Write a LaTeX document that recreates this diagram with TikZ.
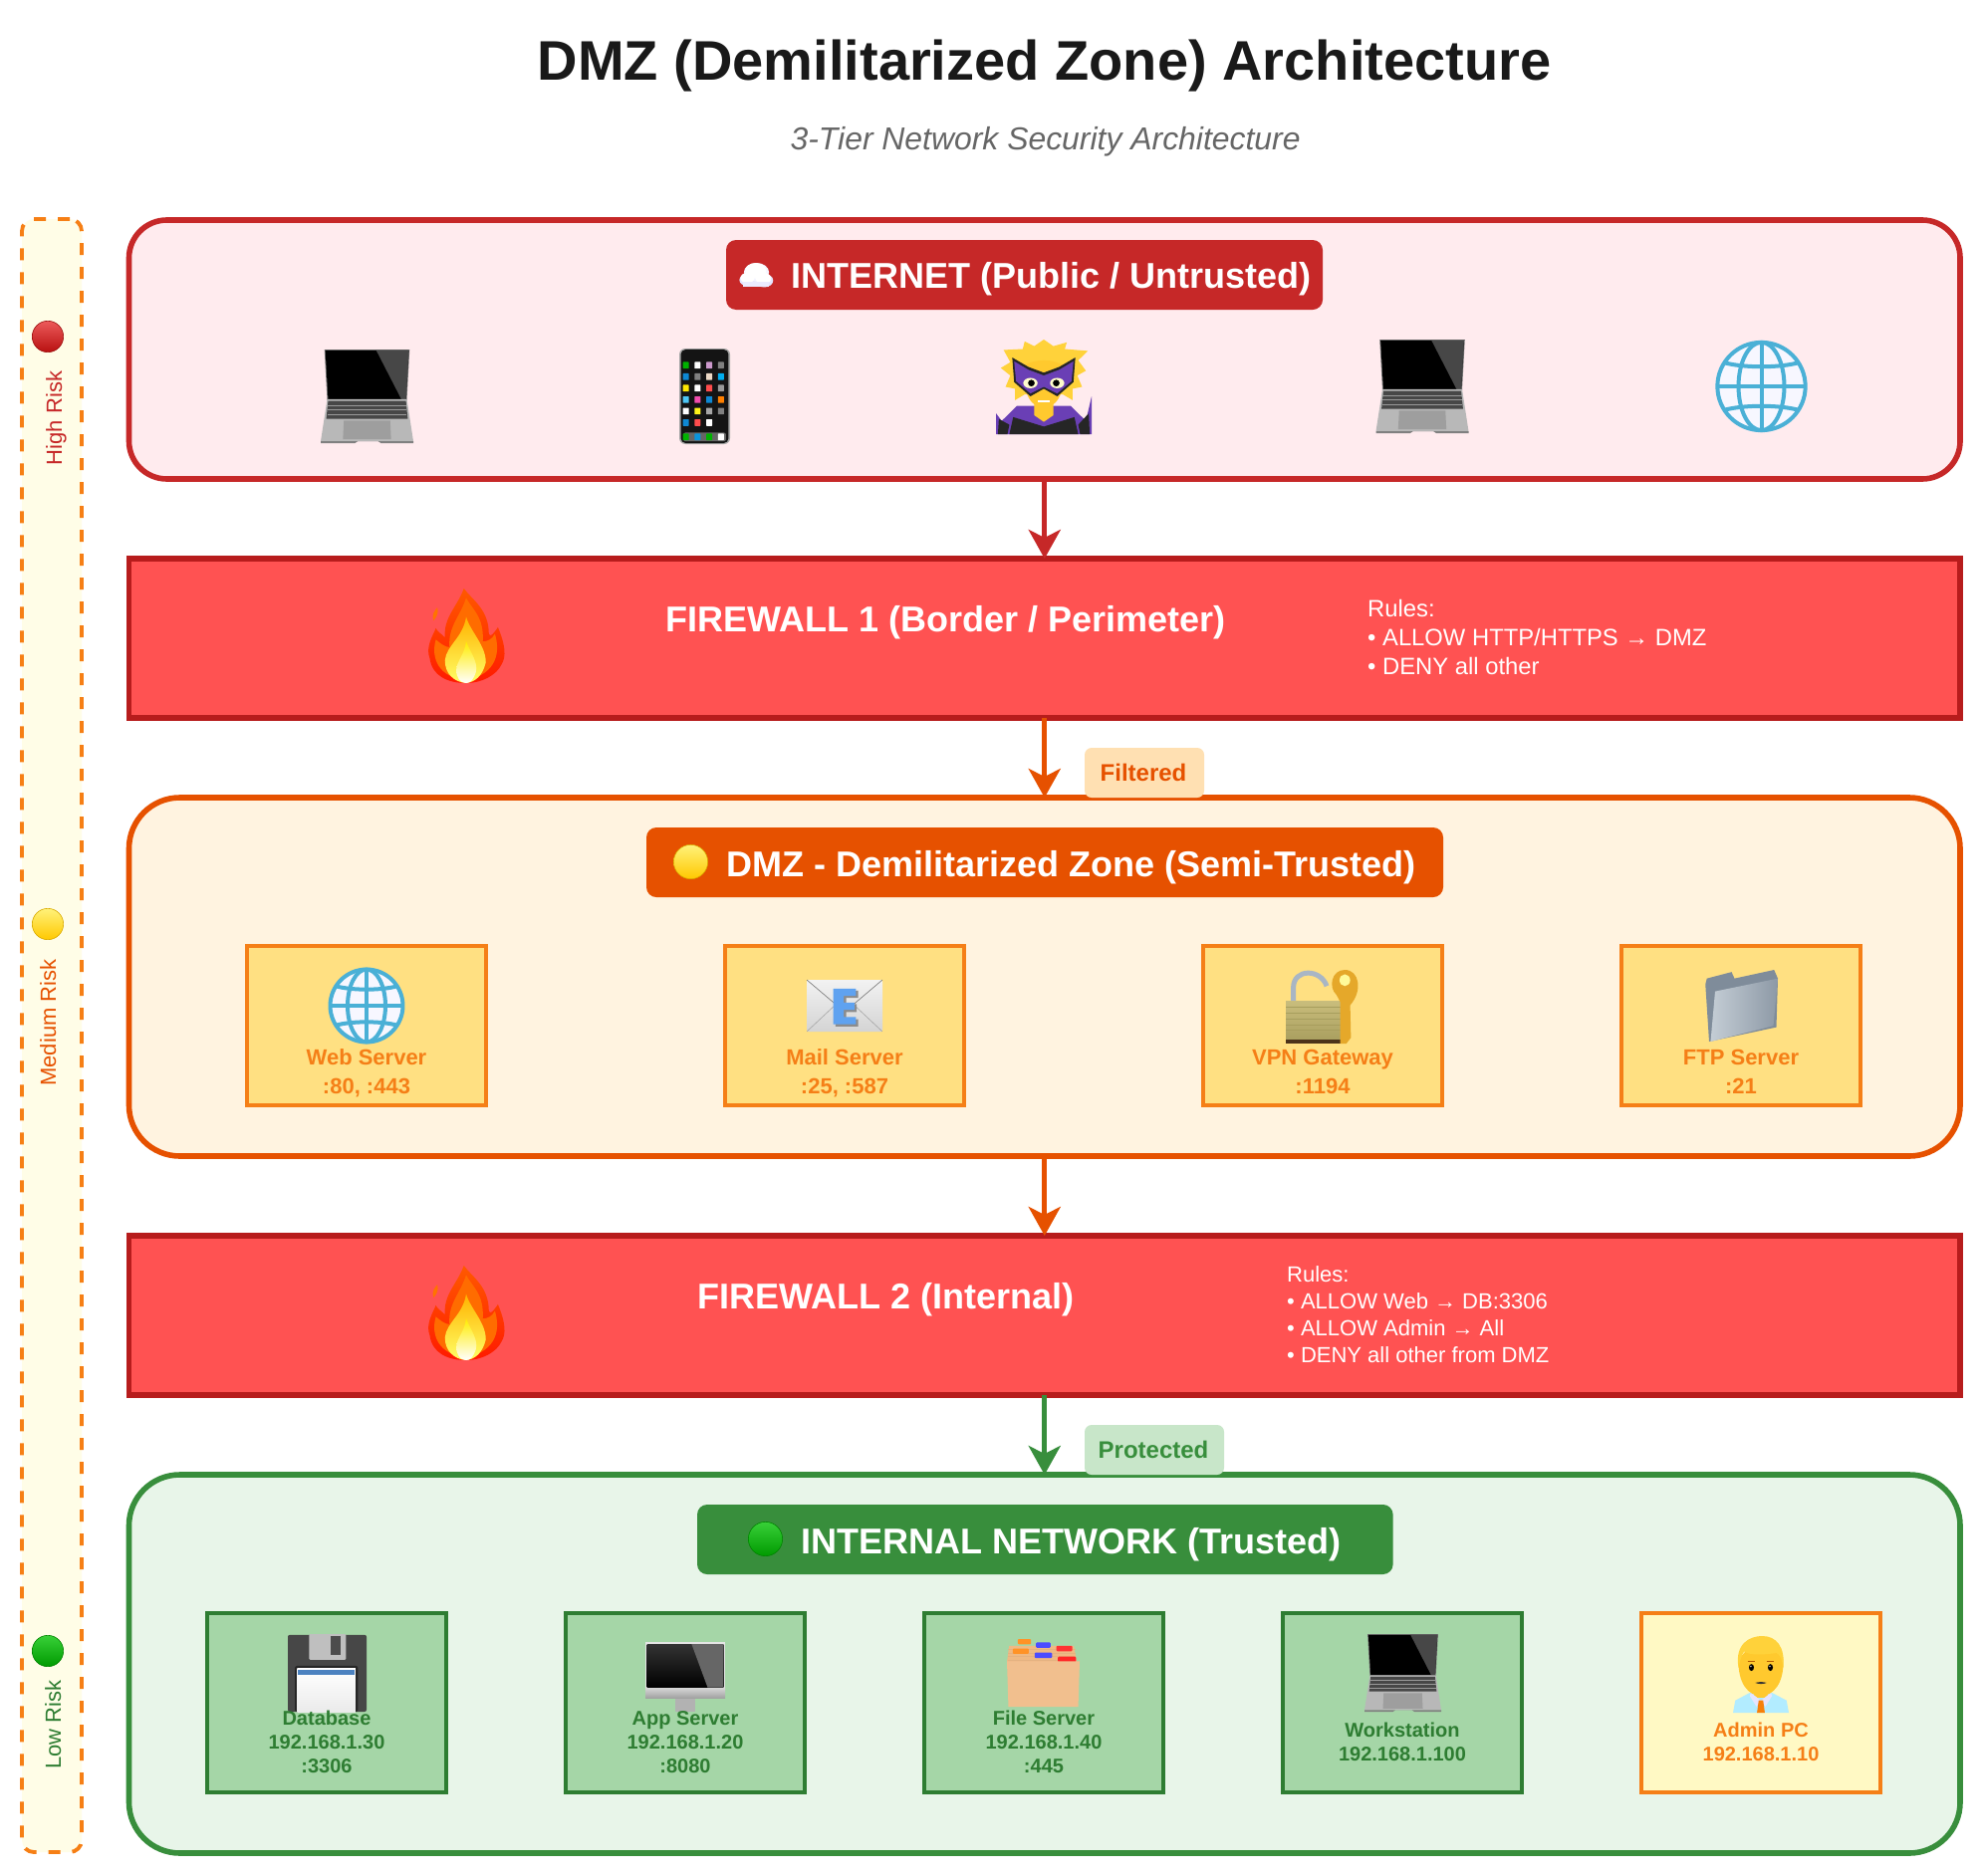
\documentclass[tikz,border=0pt]{standalone}
\usepackage{fontspec}
\setmainfont{Liberation Sans}
\usetikzlibrary{arrows.meta}
\definecolor{redz}{HTML}{C62828}
\definecolor{redbg}{HTML}{FFEBEE}
\definecolor{orz}{HTML}{E65100}
\definecolor{orbg}{HTML}{FFF3E0}
\definecolor{grz}{HTML}{388E3C}
\definecolor{grbg}{HTML}{E8F5E9}
\definecolor{fwfill}{HTML}{FF5252}
\definecolor{fwline}{HTML}{B71C1C}
\definecolor{amber}{HTML}{F57F17}
\definecolor{dmzfill}{HTML}{FFE082}
\definecolor{intfill}{HTML}{A5D6A7}
\definecolor{intline}{HTML}{2E7D32}
\definecolor{admfill}{HTML}{FFF9C4}
\definecolor{legfill}{HTML}{FFFDE7}
\definecolor{filtfill}{HTML}{FFE0B2}
\definecolor{protfill}{HTML}{C8E6C9}
\definecolor{globeblue}{HTML}{4AB0D6}
\definecolor{heroskin}{HTML}{FFC92E}
\definecolor{herohair}{HTML}{FFD23A}
\definecolor{heropur}{HTML}{6A3FB5}
\definecolor{goldkey}{HTML}{E5A82A}
\definecolor{ballyt}{HTML}{FFF27A}
\definecolor{ballyb}{HTML}{FFC800}
\definecolor{ballrt}{HTML}{EC5A5A}
\definecolor{ballrb}{HTML}{B81010}
\definecolor{ballgt}{HTML}{38D038}
\definecolor{ballgb}{HTML}{009A00}
\definecolor{locktop}{HTML}{C9BD7C}
\definecolor{lockbot}{HTML}{A89E5E}
\definecolor{shackle}{HTML}{A9B6C4}
\definecolor{foldback}{HTML}{7F8C9A}
\definecolor{foldl}{HTML}{C4CDD5}
\definecolor{foldr}{HTML}{8D99A6}
\definecolor{mailblue}{HTML}{5FA2F0}
\newcommand{\place}[5]{\begin{scope}[shift={(#1,#2)},xscale=#3/100,yscale=#4/100]#5\end{scope}}
\newcommand{\emLaptop}{%
  \fill[black!55] (4,0)--(96,0)--(93,54)--(7,54)--cycle;
  \fill[black] (5,1)--(95,1)--(92,53)--(8,53)--cycle;
  \fill[black!72] (60,1)--(95,1)--(92,53)--(87,53)--cycle;
  \fill[black!28] (7,53)--(93,53)--(100,98)--(0,98)--cycle;
  \fill[black!72] (8,55)--(92,55)--(94,74)--(6,74)--cycle;
  \foreach \yy in {59.5,64.5,69.5}{\draw[black!40,line width=.5pt] (7,\yy)--(93,\yy);}
  \fill[black!38] (25,76)--(75,76)--(76,96)--(24,96)--cycle;
  \fill[black!50] (0,98)--(100,98)--(100,100)--(65,100)--(62,98)--(40,98)--(37,100)--(0,100)--cycle;}
\newcommand{\emPhone}{%
  \fill[black!35,rounded corners=6pt] (0,0) rectangle (100,100);
  \fill[black!92,rounded corners=5pt] (3,1) rectangle (97,99);
  \fill[black!60,rounded corners=2pt] (8,88) rectangle (92,97);
  \foreach \c/\xx/\yy in {green!70!black/13/14,white/36/14,violet!40/59/14,gray/82/14,
     cyan!70!blue/13/26,gray/36/26,brown!30/59/26,cyan/82/26,
     yellow!90!orange/13/38,white/36/38,red!70/59/38,gray!80/82/38,
     cyan!70/13/50,magenta!70/36/50,cyan!70!blue/59/50,orange/82/50,
     white/13/62,yellow!90/36/62,gray!70/59/62,gray/82/62,
     cyan!70!blue/13/74,red!70/36/74,white/59/74,
     green!70!black/13/89,cyan!80!blue/36/89,green!70!black/59/89,white/82/89}{
    \fill[\c,rounded corners=.6pt] (\xx-6,\yy) rectangle (\xx+6,\yy+7);}}
\newcommand{\emHero}{%
  \fill[heropur] (0,100)--(0,78)--(6,86)--(22,70)--(78,70)--(94,86)--(100,60)--(100,100)--cycle;
  \fill[black!85] (14,100)--(18,82)--(50,92)--(82,82)--(86,100)--cycle;
  \fill[black!85] (2,100)--(3,84)--(14,90)--(12,100)--cycle;
  \fill[black!85] (98,100)--(97,78)--(86,90)--(88,100)--cycle;
  \fill[heroskin] (40,60)--(60,60)--(60,80)--(50,87)--(40,80)--cycle;
  \fill[herohair] (50,0)--(60,7)--(74,3)--(72,10)--(96,12)--(86,22)--(94,33)--(85,38)--(90,50)--(80,52)--(80,64)--(70,58)--(30,58)--(20,64)--(20,52)--(10,50)--(15,38)--(5,30)--(15,24)--(8,11)--(28,10)--(30,2)--(40,7)--cycle;
  \fill[heroskin] (28,28) .. controls (28,60) and (38,72) .. (50,72) .. controls (62,72) and (72,60) .. (72,28) .. controls (60,20) and (40,20) .. (28,28) -- cycle;
  \fill[black!85] (17,19)--(34,29)--(50,35)--(66,29)--(83,19)--(81,45)--(64,60)--(50,52)--(36,60)--(19,45)--cycle;
  \fill[heropur] (19,23)--(34,32)--(50,38)--(66,32)--(81,23)--(79,44)--(64,57)--(50,50)--(36,57)--(21,44)--cycle;
  \fill[white!80!yellow] (36,46) ellipse (7.5 and 5.5); \fill[white!80!yellow] (64,46) ellipse (7.5 and 5.5);
  \fill[black] (37,46) ellipse (3.5 and 3.5); \fill[black] (63,46) ellipse (3.5 and 3.5);
  \fill[white] (44,64) rectangle (56,66.5);}
\newcommand{\emGlobe}{%
  \fill[blue!3] (50,50) circle (49);
  \begin{scope}[line width=4pt,draw=globeblue]
  \draw (50,50) circle (48);
  \draw (50,2) -- (50,98);
  \draw (50,50) ellipse (25 and 48);
  \draw (2,50) -- (98,50);
  \draw (9,24) .. controls (30,30) and (70,30) .. (91,24);
  \draw (9,76) .. controls (30,70) and (70,70) .. (91,76);
  \end{scope}}
\newcommand{\emFire}{%
  \shade[top color=orange!70!red,bottom color=red!80!orange] (47,0) .. controls (58,12) and (80,22) .. (80,48) .. controls (82,52) and (86,48) .. (92,41) .. controls (102,60) and (103,72) .. (97,80) .. controls (90,92) and (70,100) .. (50,100) .. controls (25,100) and (5,92) .. (2,74) .. controls (-4,62) and (6,50) .. (10,42) .. controls (12,46) and (18,48) .. (22,52) .. controls (20,30) and (38,20) .. (47,0) -- cycle;
  \fill[orange!90!red] (7,34) .. controls (4,28) and (8,24) .. (12,20) .. controls (14,26) and (11,30) .. (7,34) -- cycle;
  \fill[orange!85!red] (50,10) .. controls (58,22) and (74,30) .. (72,56) .. controls (78,56) and (84,54) .. (88,48) .. controls (95,66) and (92,90) .. (50,97) .. controls (14,94) and (3,74) .. (10,54) .. controls (16,58) and (22,62) .. (28,62) .. controls (26,40) and (42,30) .. (50,10) -- cycle;
  \shade[top color=orange!60!yellow,bottom color=yellow!60!white] (50,30) .. controls (56,46) and (76,60) .. (76,78) .. controls (72,92) and (62,99) .. (50,100) .. controls (34,99) and (22,90) .. (22,76) .. controls (24,60) and (46,52) .. (50,30) -- cycle;
  \shade[top color=yellow!85!orange,bottom color=white] (50,56) .. controls (56,68) and (66,78) .. (63,88) .. controls (60,96) and (56,100) .. (50,100) .. controls (42,100) and (37,94) .. (37,86) .. controls (38,76) and (48,70) .. (50,56) -- cycle;}
\newcommand{\emCloud}{%
  \fill[blue!10] (24,70) circle (23) (72,72) circle (26);
  \fill[blue!4] (50,40) circle (36);
  \fill[white] (24,62) circle (20) (70,64) circle (22) (48,34) circle (30);
  \fill[blue!8] (12,78) rectangle (86,97);}
\newcommand{\emBall}[2]{\shade[top color=#1,bottom color=#2,draw=#2!85!black,line width=.6pt] (50,50) circle (49);}
\newcommand{\emMail}{%
  \shade[top color=black!5,bottom color=black!17,rounded corners=2pt] (0,0) rectangle (100,100);
  \draw[black!55,line width=.6pt] (0,0)--(50,62)--(100,0);
  \draw[black!35,line width=.6pt] (0,100)--(38,48) (100,100)--(62,48);
  \fill[black!45] (38,21)--(68,21)--(68,35)--(52,35)--(52,47)--(66,47)--(66,62)--(52,62)--(52,76)--(68,76)--(68,90)--(38,90)--cycle;
  \fill[mailblue] (35,17)--(65,17)--(65,31)--(49,31)--(49,44)--(63,44)--(63,58)--(49,58)--(49,72)--(65,72)--(65,86)--(35,86)--cycle;}
\newcommand{\emLock}{%
  \draw[shackle,line width=5pt] (10,50) -- (10,24) .. controls (10,-2) and (46,-2) .. (54,22);
  \shade[top color=locktop,bottom color=lockbot] (0,42) rectangle (72,97);
  \foreach \yy in {50,58,66,74,82}{\draw[lockbot,line width=.5pt] (0,\yy)--(72,\yy);}
  \fill[brown!40!black] (0,95) rectangle (72,100);
  \fill[goldkey] (78,0) .. controls (60,0) and (56,24) .. (67,34) -- (72,44) -- (72,100) -- (80,100) -- (86,92) -- (85,48) .. controls (102,28) and (97,0) .. (78,0) -- cycle;
  \fill[yellow!40!white] (78,14) ellipse (7 and 8);}
\newcommand{\emFolder}{%
  \fill[foldback] (3,20)--(5,12)--(38,3)--(42,12)--(95,0)--(100,12)--(98,80)--(8,100)--cycle;
  \shade[left color=foldl,right color=foldr] (16,30)--(100,12)--(94,78)--(10,100)--cycle;}
\newcommand{\emFloppy}{%
  \fill[black!72,rounded corners=2pt] (0,1) rectangle (100,100);
  \fill[black!25,rounded corners=1pt] (27,0) rectangle (74,33);
  \fill[black!70] (54,3) rectangle (67,27);
  \fill[black!85,rounded corners=2pt] (9,41) rectangle (89,100);
  \shade[top color=white,bottom color=black!8] (12,44) rectangle (86,100);
  \fill[mailblue!80!black] (13,46) rectangle (85,53);}
\newcommand{\emMonitor}{%
  \fill[black!10] (0,0) rectangle (100,67);
  \shade[top color=black!80,bottom color=black] (2,3) rectangle (98,65);
  \fill[black!60] (58,3)--(98,3)--(98,65)--(78,65)--cycle;
  \shade[top color=black!18,bottom color=black!38] (0,67) rectangle (100,81);
  \fill[black!30] (38,81) rectangle (62,100);}
\newcommand{\emFileBox}{%
  \fill[brown!45!orange!55] (3,10) -- (92,10) -- (96,34) -- (0,34) -- cycle;
  \foreach \yy in {16,21,26,31}{\draw[brown!70!orange!60,line width=.8pt] (2,\yy)--(95,\yy);}
  \fill[orange!85,rounded corners=1pt] (15,0) rectangle (33,8);
  \fill[blue!70,rounded corners=1pt] (40,5) rectangle (60,13);
  \fill[red!80,rounded corners=1pt] (68,10) rectangle (90,18);
  \fill[orange!85,rounded corners=1pt] (8,14) rectangle (30,22);
  \fill[blue!70,rounded corners=1pt] (38,20) rectangle (62,28);
  \fill[red!85,rounded corners=1pt] (70,26) rectangle (95,34);
  \fill[brown!45!orange!50!white] (0,33) -- (100,33) -- (98,100) -- (2,100) -- cycle;}
\newcommand{\emMan}{%
  \fill[blue!25!cyan!30] (0,100) -- (4,84) -- (30,74) -- (70,74) -- (96,84) -- (100,100) -- cycle;
  \fill[heroskin] (38,68) rectangle (62,80);
  \fill[white!90!blue] (32,74)--(50,84)--(42,92)--(30,78)--cycle;
  \fill[white!90!blue] (68,74)--(50,84)--(58,92)--(70,78)--cycle;
  \fill[orange!85!brown] (46,84)--(54,84)--(57,100)--(43,100)--cycle;
  \fill[heroskin] (10,30) .. controls (8,62) and (28,78) .. (50,78) .. controls (72,78) and (92,62) .. (90,30) -- (70,14) -- (30,14) -- cycle;
  \fill[herohair] (10,42) .. controls (2,10) and (30,0) .. (52,0) .. controls (78,0) and (94,14) .. (90,42) .. controls (88,30) and (84,24) .. (78,22) .. controls (60,24) and (30,26) .. (20,20) .. controls (14,26) and (12,34) .. (10,42) -- cycle;
  \fill[black] (33,41) ellipse (4.5 and 4.5); \fill[black] (67,41) ellipse (4.5 and 4.5);
  \fill[white] (32,39.5) ellipse (1.2 and 1.2); \fill[white] (66,39.5) ellipse (1.2 and 1.2);
  \draw[orange!70!black,line width=.8pt] (26,33)--(40,33) (60,33)--(74,33);
  \fill[black!80] (40,61) .. controls (46,59.5) and (54,59.5) .. (60,61) .. controls (54,63) and (46,63) .. (40,61) -- cycle;}
\newcommand{\slsrv}{\rule[-5pt]{0pt}{21pt}}
\newcommand{\slhost}{\rule[-4pt]{0pt}{18pt}}
\tikzset{
  zone/.style={rectangle,draw=#1,line width=5.6pt,outer sep=0pt,inner sep=0pt},
  banner/.style={rectangle,fill=#1,rounded corners=10pt,minimum height=70pt,outer sep=0pt,inner sep=0pt},
  bannertxt/.style={anchor=base west,inner sep=0pt,text=white,font=\fontsize{36}{40}\selectfont\bfseries},
  fwtxt/.style={anchor=base west,inner sep=0pt,text=white,font=\fontsize{36}{40}\selectfont\bfseries},
  fwrules/.style={anchor=north west,inner sep=0pt,text=white,align=left},
  srv/.style={rectangle,draw=amber,fill=dmzfill,line width=3.8pt,minimum width=240pt,minimum height=160pt,outer sep=0pt,inner sep=0pt},
  host/.style={rectangle,draw=intline,fill=intfill,line width=3.8pt,minimum width=240pt,minimum height=180pt,outer sep=0pt,inner sep=0pt},
  adm/.style={host,draw=amber,fill=admfill},
  srvtxt/.style={inner sep=0pt,align=center,text=amber,font=\fontsize{22}{29}\selectfont\bfseries},
  hosttxt/.style={inner sep=0pt,align=center,text=intline,font=\fontsize{20}{24}\selectfont\bfseries},
  flow/.style={draw=#1,line width=5.4pt,-{Stealth[length=29pt,width=32pt,inset=8pt]}},
  tag/.style={rectangle,fill=#1,rounded corners=7pt,outer sep=0pt,inner sep=0pt,minimum height=50pt},
  tagtxt/.style={inner sep=0pt,anchor=base,font=\fontsize{24}{27}\selectfont\bfseries},
  risk/.style={rotate=90,inner sep=0pt,anchor=base,font=\fontsize{22}{24}\selectfont},
}
\begin{document}
\begin{tikzpicture}[x=1pt,y=-1pt]
\useasboundingbox (0,0) rectangle (1992,1884);
\fill[white] (0,0) rectangle (1992,1884);
\node[inner sep=0pt,anchor=base,font=\fontsize{56}{60}\selectfont\bfseries,text=black!90] (title) at (1048.6,81) {DMZ (Demilitarized Zone) Architecture};
\node[inner sep=0pt,anchor=base,font=\fontsize{31.9}{34}\selectfont\itshape,text=black!60] (subtitle) at (1049.6,150) {3-Tier Network Security Architecture};
% legend
\node[rectangle,draw=amber!90!orange,fill=legfill,line width=3.8pt,dash pattern=on 12pt off 12pt,rounded corners=12pt,outer sep=0pt,inner sep=0pt,minimum width=60pt,minimum height=1640pt] (legend) at (52,1040) {};
\place{32}{322}{32}{32}{\emBall{ballrt}{ballrb}}
\place{32}{912}{32}{32}{\emBall{ballyt}{ballyb}}
\place{32}{1642}{32}{32}{\emBall{ballgt}{ballgb}}
\node[risk,text=redz] (lhigh) at (62,420) {High Risk};
\node[risk,text=orz] (lmed) at (56,1027) {Medium Risk};
\node[risk,text=intline] (llow) at (61,1732) {Low Risk};
% zones
\node[zone=redz,fill=redbg,rounded corners=38pt,minimum width=1838.5pt,minimum height=260pt] (internet) at (1048.75,351) {};
\node[zone=fwline,fill=fwfill,minimum width=1838.5pt,minimum height=160pt] (fw1) at (1048.75,641) {};
\node[zone=orz,fill=orbg,rounded corners=51pt,minimum width=1838.5pt,minimum height=360pt] (dmz) at (1048.75,981) {};
\node[zone=fwline,fill=fwfill,minimum width=1838.5pt,minimum height=160pt] (fw2) at (1048.75,1321) {};
\node[zone=grz,fill=grbg,rounded corners=51pt,minimum width=1838.5pt,minimum height=380pt] (internal) at (1048.75,1671) {};
% banners
\node[banner=redz,minimum width=599pt] (binternet) at (1028.5,276) {};
\node[banner=orz,minimum width=800pt] (bdmz) at (1049,866) {};
\node[banner=grz,minimum width=698.6pt] (binternal) at (1049.3,1546) {};
\place{742}{263}{35}{26}{\emCloud}
\place{676}{848}{35}{35}{\emBall{ballyt}{ballyb}}
\place{751}{1528}{35}{35}{\emBall{ballgt}{ballgb}}
\node[bannertxt] (tinternet) at (794,289) {INTERNET (Public / Untrusted)};
\node[bannertxt] (tdmz) at (729,880) {DMZ - Demilitarized Zone (Semi-Trusted)};
\node[bannertxt] (tinternal) at (804,1560) {INTERNAL NETWORK (Trusted)};
% internet icons
\place{322}{351}{93}{94}{\emLaptop}
\place{682}{350}{51}{96}{\emPhone}
\place{1000}{341}{96}{95}{\emHero}
\place{1381.5}{341}{93}{94}{\emLaptop}
\place{1722.5}{342}{92}{92}{\emGlobe}
% firewalls
\place{430}{591}{76}{95}{\emFire}
\place{430}{1271}{76}{95}{\emFire}
\node[fwtxt] (tfw1) at (668,634) {FIREWALL 1 (Border / Perimeter)};
\node[fwtxt] (tfw2) at (700,1314) {FIREWALL 2 (Internal)};
\node[fwrules,font=\fontsize{23.8}{29}\selectfont] (rfw1) at (1373,602) {Rules:\\• ALLOW HTTP/HTTPS → DMZ\\• DENY all other};
\node[fwrules,font=\fontsize{22}{27}\selectfont] (rfw2) at (1292,1271) {Rules:\\• ALLOW Web → DB:3306\\• ALLOW Admin → All\\• DENY all other from DMZ};
% dmz servers
\node[srv] (web) at (368,1030) {};
\node[srv] (mail) at (848,1030) {};
\node[srv] (vpn) at (1328,1030) {};
\node[srv] (ftp) at (1748,1030) {};
\place{330}{972}{76}{76}{\emGlobe}
\place{810}{984}{76}{52}{\emMail}
\place{1291}{974}{76}{74}{\emLock}
\place{1710}{974}{75}{72}{\emFolder}
\node[srvtxt] (tweb) at (368,1078) {\slsrv Web Server\\:80, :443\slsrv};
\node[srvtxt] (tmail) at (848,1078) {\slsrv Mail Server\\:25, :587\slsrv};
\node[srvtxt] (tvpn) at (1328,1078) {\slsrv VPN Gateway\\:1194\slsrv};
\node[srvtxt] (tftp) at (1748,1078) {\slsrv FTP Server\\:21\slsrv};
% internal hosts
\node[host] (db) at (328,1710) {};
\node[host] (app) at (688,1710) {};
\node[host] (file) at (1048,1710) {};
\node[host] (ws) at (1408,1710) {};
\node[adm] (admin) at (1768,1710) {};
\place{289}{1641}{79}{78}{\emFloppy}
\place{648}{1649}{80}{70}{\emMonitor}
\place{1011}{1646}{73}{68}{\emFileBox}
\place{1370}{1641}{77}{78}{\emLaptop}
\place{1740}{1643}{56}{77}{\emMan}
\node[hosttxt] (tdb) at (328,1751) {\slhost Database\\192.168.1.30\\:3306\slhost};
\node[hosttxt] (tapp) at (688,1751) {\slhost App Server\\192.168.1.20\\:8080\slhost};
\node[hosttxt] (tfile) at (1048,1751) {\slhost File Server\\192.168.1.40\\:445\slhost};
\node[hosttxt] (tws) at (1408,1751) {\slhost Workstation\\192.168.1.100\slhost};
\node[hosttxt,text=amber] (tadmin) at (1768,1751) {\slhost Admin PC\\192.168.1.10\slhost};
% connectors
\draw[flow=redz] (internet.south) -- (fw1.north);
\draw[flow=orz] (fw1.south) -- (dmz.north);
\draw[flow=orz] (dmz.south) -- (fw2.north);
\draw[flow=grz] (fw2.south) -- (internal.north);
% tags
\node[tag=filtfill,minimum width=120pt] (filt) at (1149,776) {};
\node[tagtxt,text=orz] (tfilt) at (1148,784) {Filtered};
\node[tag=protfill,minimum width=140pt] (prot) at (1159,1456) {};
\node[tagtxt,text=grz] (tprot) at (1158,1464) {Protected};
\end{tikzpicture}
\end{document}
